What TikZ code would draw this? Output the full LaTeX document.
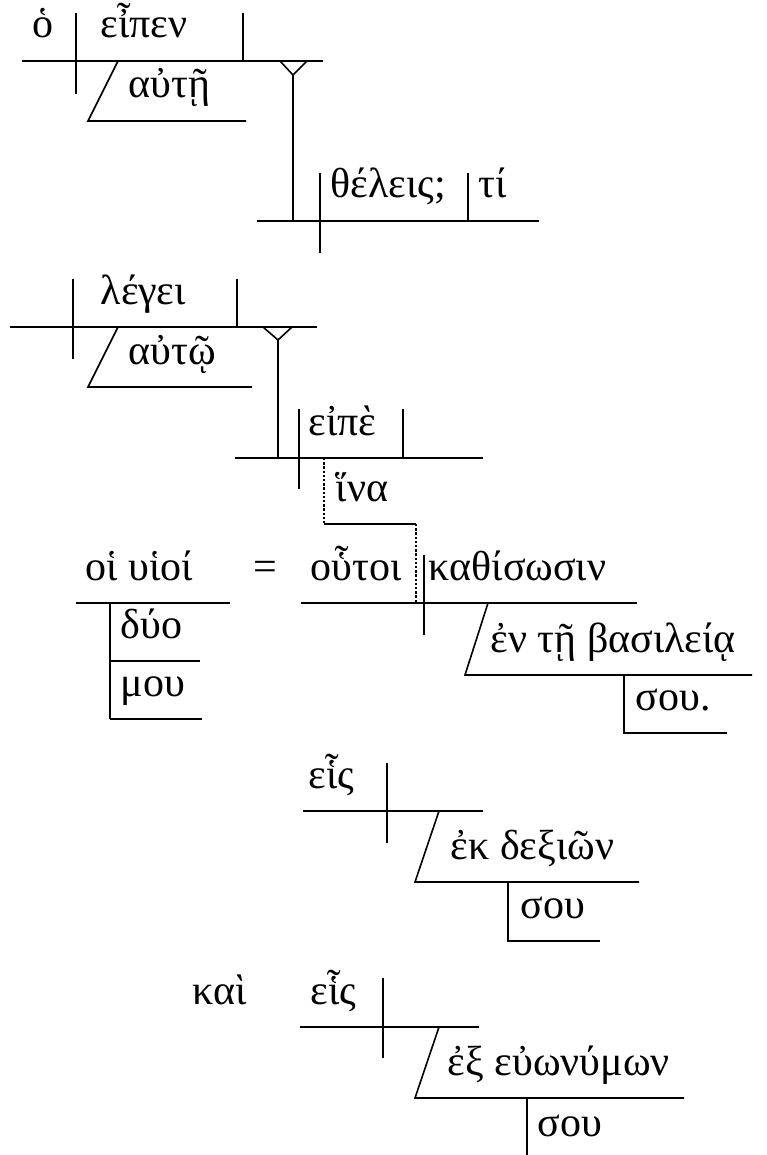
\documentclass[tikz,border=0pt]{standalone}
\usepackage{fontspec}
\setmainfont{Liberation Serif}

\begin{document}
\begin{tikzpicture}[x=1pt,y=-1pt,line width=1.6pt,
	word/.style={anchor=base west, inner sep=0pt, font=\fontsize{42}{48}\selectfont},
	dots/.style={dash pattern=on 2.4pt off 1.8pt, line width=2.6pt}]
	\useasboundingbox (0,0) rectangle (767,1155);

	\draw (22,61) -- (323,61);
	\draw (76,13) -- (76,94);
	\draw (243,13) -- (243,61);
	\draw (118,61) -- (88,121) -- (246,121);
	\draw (280,61) -- (293,75) -- (307,61);
	\draw (293,75) -- (293,221);
	\node [word] (ho) at (32,38) {ὁ};
	\node [word] (eipen) at (100,38) {εἶπεν};
	\node [word] (aute) at (128,98) {αὐτῇ};

	\draw (257,221) -- (539,221);
	\draw (320,173) -- (320,253);
	\draw (468,173) -- (468,221);
	\node [word] (theleis) at (330,198) {θέλεις;};
	\node [word] (ti) at (478,198) {τί};

	\draw (10,327) -- (317,327);
	\draw (73,279) -- (73,359);
	\draw (237,279) -- (237,327);
	\draw (118,327) -- (88,387) -- (252,387);
	\draw (263,327) -- (278,340) -- (292,327);
	\draw (278,340) -- (278,458);
	\node [word] (legei) at (100,304) {λέγει};
	\node [word] (autw) at (128,364) {αὐτῷ};

	\draw (235,458) -- (483,458);
	\draw (299,409) -- (299,489);
	\draw (403,409) -- (403,458);
	\draw [dots] (324,458) -- (324,524);
	\draw (324,524) -- (416,524);
	\draw [dots] (416,524) -- (416,603);
	\node [word] (eipe) at (308,435) {εἰπὲ};
	\node [word] (hina) at (335,501) {ἵνα};

	\draw (76,603) -- (230,603);
	\draw (301,603) -- (637,603);
	\draw (424,555) -- (424,635);
	\draw (110,603) -- (110,719);
	\draw (110,661) -- (200,661);
	\draw (110,719) -- (202,719);
	\draw (488,603) -- (465,675) -- (752,675);
	\draw (624,675) -- (624,733) -- (727,733);
	\node [word] (huioi) at (85,580) {οἱ υἱοί};
	\node [word] (equals) at (253,580) {=};
	\node [word] (houtoi) at (310,580) {οὗτοι};
	\node [word] (kathisosin) at (428,580) {καθίσωσιν};
	\node [word] (duo) at (120,638) {δύο};
	\node [word] (mou) at (120,696) {μου};
	\node [word] (basileia) at (490,652) {ἐν τῇ βασιλείᾳ};
	\node [word] (soua) at (635,710) {σου.};

	\draw (303,811) -- (483,811);
	\draw (387,763) -- (387,843);
	\draw (439,811) -- (415,882) -- (639,882);
	\draw (508,882) -- (508,941) -- (600,941);
	\node [word] (heisa) at (308,788) {εἷς};
	\node [word] (dexion) at (450,859) {ἐκ δεξιῶν};
	\node [word] (soub) at (520,918) {σου};

	\draw (300,1027) -- (479,1027);
	\draw (383,978) -- (383,1058);
	\draw (439,1027) -- (415,1098) -- (684,1098);
	\draw (527,1098) -- (527,1160);
	\node [word] (kai) at (192,1004) {καὶ};
	\node [word] (heisb) at (310,1004) {εἷς};
	\node [word] (euonumon) at (447,1075) {ἐξ εὐωνύμων};
	\node [word] (souc) at (537,1136) {σου};
\end{tikzpicture}
\end{document}
